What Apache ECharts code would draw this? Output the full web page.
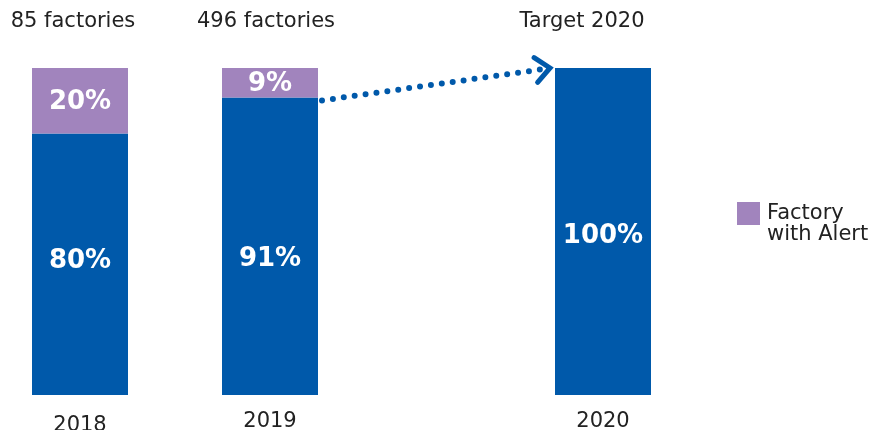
<!DOCTYPE html>
<html>
<head>
<meta charset="utf-8">
<script src="https://cdn.jsdelivr.net/npm/echarts@6/dist/echarts.min.js"></script>
<style>
  html, body { margin: 0; padding: 0; background: #ffffff; }
  #chart { width: 880px; height: 430px; }
</style>
</head>
<body>
<div id="chart"></div>
<script>
// Share of factories, split into those without and with an alert
const years = ['2018', '2019', '2020'];
const topLabels = ['85 factories', '496 factories', 'Target 2020'];
const clearShare = [80, 91, 100];
const alertShare = [20, 9, 0];
const alertName = 'Factory with Alert';

const BLUE = '#0059aa';
const PURPLE = '#a184bd';
const FONT = 'DejaVu Sans';
const BAR_W = 96;

// one narrow grid per year so the target column can sit further right
const gridLayout = [
  { left: 32, yearMargin: 20, topPad: [0, 14, 0, 0] },
  { left: 222, yearMargin: 16, topPad: [0, 8, 0, 0] },
  { left: 555, yearMargin: 16, topPad: [0, 42, 0, 0] }
];
// nudges for the labels inside the bar segments
const clearLabelShift = [-3, 13, 5];
const alertLabelShift = [2, 2, 0];

const grid = [], xAxis = [], yAxis = [], series = [];
years.forEach((year, i) => {
  const g = gridLayout[i];
  grid.push({
    left: g.left, width: BAR_W, top: 68, bottom: 35,
    containLabel: false, outerBoundsMode: 'none'
  });
  xAxis.push({
    type: 'category', gridIndex: i, data: [year], position: 'bottom',
    axisLine: { show: false }, axisTick: { show: false },
    axisLabel: { margin: g.yearMargin, color: '#222', fontFamily: FONT, fontSize: 21 }
  });
  xAxis.push({
    type: 'category', gridIndex: i, data: [topLabels[i]], position: 'top',
    axisLine: { show: false }, axisTick: { show: false },
    axisLabel: { margin: 36, color: '#222', fontFamily: FONT, fontSize: 21, padding: g.topPad }
  });
  yAxis.push({ type: 'value', gridIndex: i, min: 0, max: 100, show: false, splitLine: { show: false } });

  series.push({
    name: 'Factory', type: 'bar', stack: 's' + i,
    xAxisIndex: i * 2, yAxisIndex: i, barWidth: BAR_W,
    itemStyle: { color: BLUE },
    label: {
      show: true, position: 'inside', offset: [0, clearLabelShift[i]],
      formatter: p => p.value + '%', color: '#fff',
      fontFamily: FONT, fontWeight: 'bold', fontSize: 26
    },
    data: [clearShare[i]]
  });
  series.push({
    name: alertName, type: 'bar', stack: 's' + i,
    xAxisIndex: i * 2, yAxisIndex: i, barWidth: BAR_W,
    itemStyle: { color: PURPLE },
    label: {
      show: alertShare[i] > 0, position: 'inside', offset: [0, alertLabelShift[i]],
      formatter: p => p.value + '%', color: '#fff',
      fontFamily: FONT, fontWeight: 'bold', fontSize: 26
    },
    data: [alertShare[i]]
  });
});

const chart = echarts.init(document.getElementById('chart'), null, { renderer: 'canvas' });
chart.setOption({
  animation: false,
  backgroundColor: '#ffffff',
  grid, xAxis, yAxis, series,
  legend: {
    data: [alertName],
    left: 732, top: 177,
    itemWidth: 23, itemHeight: 23,
    icon: 'rect',
    // leading blank line keeps the swatch level with the first line of text
    formatter: () => '\nFactory\nwith Alert',
    textStyle: {
      color: '#222', fontFamily: FONT, fontSize: 21, lineHeight: 21,
      padding: [0, 0, 0, 2]
    }
  }
});

// dotted arrow from the top of the 2019 bar to the top of the 2020 target bar
const from = chart.convertToPixel({ xAxisIndex: 2, yAxisIndex: 1 }, [years[1], clearShare[1]]);
const to = chart.convertToPixel({ xAxisIndex: 4, yAxisIndex: 2 }, [years[2], clearShare[2]]);
const x1 = from[0] + BAR_W / 2 + 4, y1 = from[1] + 3;
const x2 = to[0] - BAR_W / 2 - 5, y2 = to[1];
const ang = Math.atan2(y2 - y1, x2 - x1);
const head = 19, spread = 0.72;
chart.setOption({
  graphic: [
    {
      type: 'line', silent: true,
      shape: { x1: x1, y1: y1, x2: x2 - 6, y2: y2 + 1 },
      style: { stroke: BLUE, lineWidth: 6, lineDash: [0, 11], lineCap: 'round' }
    },
    {
      type: 'polyline', silent: true,
      shape: {
        points: [
          [x2 - head * Math.cos(ang - spread), y2 - head * Math.sin(ang - spread)],
          [x2, y2],
          [x2 - head * Math.cos(ang + spread), y2 - head * Math.sin(ang + spread)]
        ]
      },
      style: { stroke: BLUE, lineWidth: 5, lineCap: 'round', lineJoin: 'miter', fill: null }
    }
  ]
});
</script>
</body>
</html>
